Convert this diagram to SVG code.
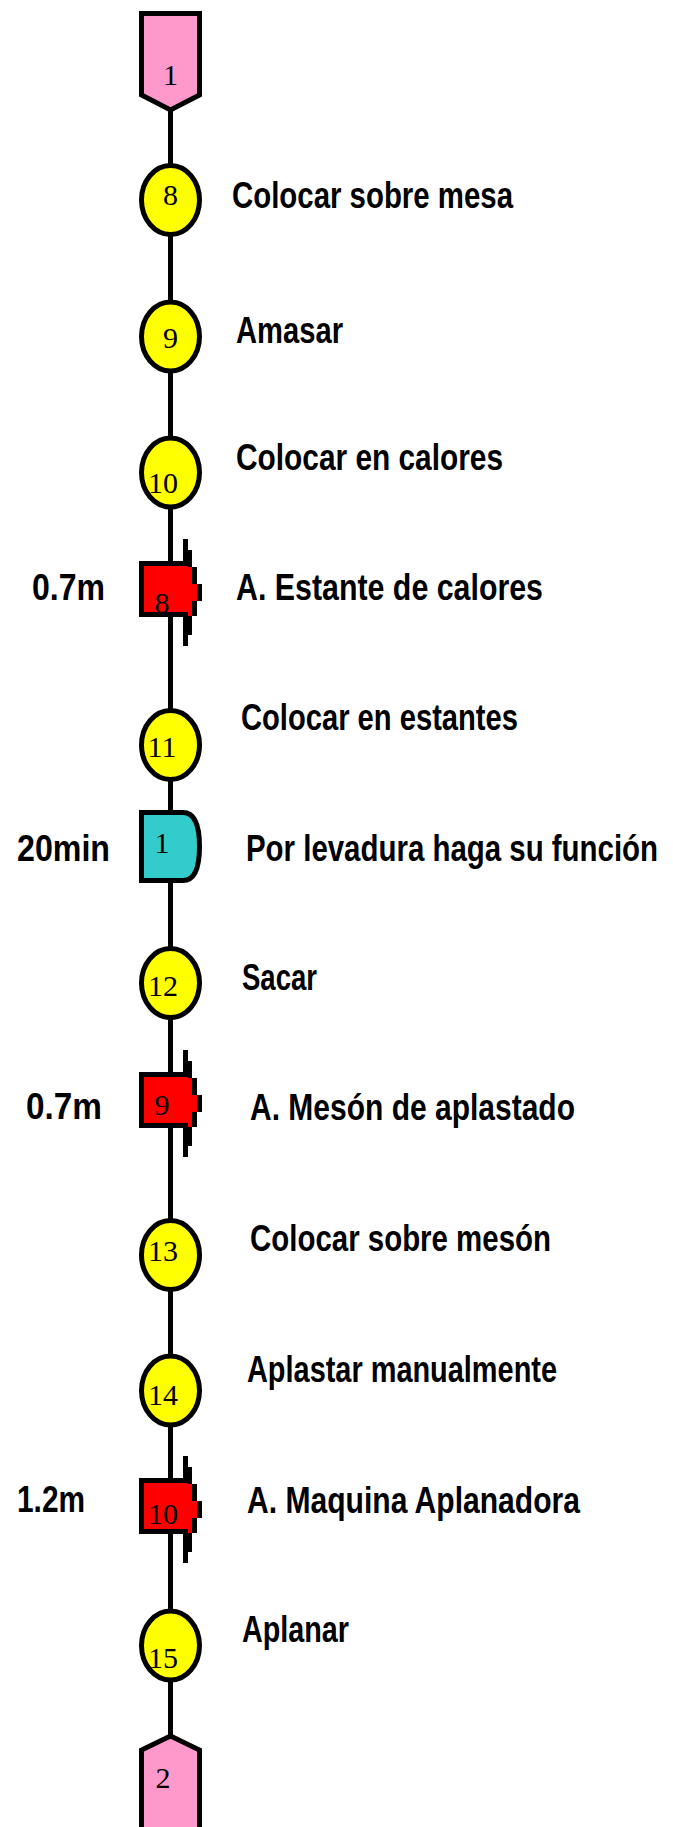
<svg xmlns="http://www.w3.org/2000/svg" xmlns:xlink="http://www.w3.org/1999/xlink" width="673" height="1827" viewBox="0 0 673 1827">
<style>
.conn{stroke:#000;stroke-width:5;fill:none}
.op{fill:#FFFF00;stroke:#000;stroke-width:5}
.term{fill:#FF99CC;stroke:#000;stroke-width:5}
.delay{fill:#33CCCC;stroke:#000;stroke-width:5}
.num{font-family:"Liberation Serif","Times New Roman",serif;font-size:30px;fill:#000;text-anchor:middle}
.lbl{font-family:"Liberation Sans",Arial,sans-serif;font-size:36px;font-weight:bold;fill:#000}
</style>
<defs>
<g id="transport">
<rect x="144" y="5" width="48" height="46" fill="#FF0000"/>
<rect x="192" y="23" width="5" height="17" fill="#FF0000"/>
<rect x="188" y="51" width="4" height="5" fill="#FF0000"/>
<g fill="#000">
<rect x="139" y="0" width="53" height="5"/>
<rect x="139" y="0" width="5" height="56"/>
<rect x="139" y="51" width="49" height="5"/>
<rect x="192" y="6" width="5" height="17"/>
<rect x="192" y="40" width="5" height="15"/>
<rect x="197" y="23" width="5" height="17"/>
<rect x="183" y="-22" width="5" height="22"/>
<rect x="188" y="-11" width="4" height="17"/>
<rect x="183" y="56" width="5" height="29"/>
<rect x="188" y="55" width="4" height="19"/>
</g>
</g>
</defs>
<g id="connectors">
<line class="conn" x1="170.5" y1="110" x2="170.5" y2="165"/>
<line class="conn" x1="170.5" y1="235" x2="170.5" y2="302"/>
<line class="conn" x1="170.5" y1="371" x2="170.5" y2="438"/>
<line class="conn" x1="170.5" y1="507" x2="170.5" y2="561"/>
<line class="conn" x1="170.5" y1="617" x2="170.5" y2="710"/>
<line class="conn" x1="170.5" y1="780" x2="170.5" y2="810"/>
<line class="conn" x1="170.5" y1="883" x2="170.5" y2="948"/>
<line class="conn" x1="170.5" y1="1018" x2="170.5" y2="1072"/>
<line class="conn" x1="170.5" y1="1126" x2="170.5" y2="1220"/>
<line class="conn" x1="170.5" y1="1290" x2="170.5" y2="1356"/>
<line class="conn" x1="170.5" y1="1425" x2="170.5" y2="1478"/>
<line class="conn" x1="170.5" y1="1534" x2="170.5" y2="1611"/>
<line class="conn" x1="170.5" y1="1680" x2="170.5" y2="1736"/>
</g>
<g id="start1">
<polygon class="term" points="141.5,13.5 199.5,13.5 199.5,95 170.5,110 141.5,95"/>
<text class="num" x="170.5" y="85">1</text>
</g>
<g id="op8">
<ellipse class="op" cx="170.5" cy="200" rx="29" ry="34.5"/>
<text class="num" x="170.5" y="205">8</text>
<text class="lbl" x="232" y="208" textLength="281" lengthAdjust="spacingAndGlyphs">Colocar sobre mesa</text>
</g>
<g id="op9">
<ellipse class="op" cx="170.5" cy="336.5" rx="29" ry="34.5"/>
<text class="num" x="170.5" y="348">9</text>
<text class="lbl" x="236" y="343" textLength="107" lengthAdjust="spacingAndGlyphs">Amasar</text>
</g>
<g id="op10">
<ellipse class="op" cx="170.5" cy="472.5" rx="29" ry="34.5"/>
<text class="num" x="163" y="493">10</text>
<text class="lbl" x="236" y="470" textLength="267" lengthAdjust="spacingAndGlyphs">Colocar en calores</text>
</g>
<g id="tr8">
<use xlink:href="#transport" href="#transport" y="561"/>
<text class="num" x="162" y="613">8</text>
<text class="lbl" x="32" y="600" textLength="73" lengthAdjust="spacingAndGlyphs">0.7m</text>
<text class="lbl" x="236" y="600" textLength="307" lengthAdjust="spacingAndGlyphs">A. Estante de calores</text>
</g>
<g id="op11">
<ellipse class="op" cx="170.5" cy="745" rx="29" ry="34.5"/>
<text class="num" x="162" y="757">11</text>
<text class="lbl" x="241" y="730" textLength="277" lengthAdjust="spacingAndGlyphs">Colocar en estantes</text>
</g>
<g id="delay1">
<path class="delay" d="M141.5,812.5 H183 Q199.5,812.5 199.5,846.5 Q199.5,880.5 183,880.5 H141.5 Z"/>
<text class="num" x="162" y="853">1</text>
<text class="lbl" x="17" y="861" textLength="93" lengthAdjust="spacingAndGlyphs">20min</text>
<text class="lbl" x="246" y="861" font-size="30" textLength="412" lengthAdjust="spacingAndGlyphs">Por levadura haga su función</text>
</g>
<g id="op12">
<ellipse class="op" cx="170.5" cy="983" rx="29" ry="34.5"/>
<text class="num" x="163" y="996">12</text>
<text class="lbl" x="242" y="990" textLength="75" lengthAdjust="spacingAndGlyphs">Sacar</text>
</g>
<g id="tr9">
<use xlink:href="#transport" href="#transport" y="1072"/>
<text class="num" x="162" y="1115">9</text>
<text class="lbl" x="26" y="1119" textLength="76" lengthAdjust="spacingAndGlyphs">0.7m</text>
<text class="lbl" x="250" y="1120" textLength="325" lengthAdjust="spacingAndGlyphs">A. Mesón de aplastado</text>
</g>
<g id="op13">
<ellipse class="op" cx="170.5" cy="1255" rx="29" ry="34.5"/>
<text class="num" x="163" y="1261">13</text>
<text class="lbl" x="250" y="1251" textLength="301" lengthAdjust="spacingAndGlyphs">Colocar sobre mesón</text>
</g>
<g id="op14">
<ellipse class="op" cx="170.5" cy="1390.5" rx="29" ry="34.5"/>
<text class="num" x="163" y="1405">14</text>
<text class="lbl" x="247" y="1382" textLength="310" lengthAdjust="spacingAndGlyphs">Aplastar manualmente</text>
</g>
<g id="tr10">
<use xlink:href="#transport" href="#transport" y="1478"/>
<text class="num" x="163" y="1524">10</text>
<text class="lbl" x="17" y="1512" textLength="68" lengthAdjust="spacingAndGlyphs">1.2m</text>
<text class="lbl" x="247" y="1513" textLength="333" lengthAdjust="spacingAndGlyphs">A. Maquina Aplanadora</text>
</g>
<g id="op15">
<ellipse class="op" cx="170.5" cy="1645.5" rx="29" ry="34.5"/>
<text class="num" x="163" y="1668">15</text>
<text class="lbl" x="242" y="1642" textLength="107" lengthAdjust="spacingAndGlyphs">Aplanar</text>
</g>
<g id="end2">
<polygon class="term" points="170.5,1736 199.5,1750 199.5,1832 141.5,1832 141.5,1750"/>
<text class="num" x="163" y="1788">2</text>
</g>
</svg>
